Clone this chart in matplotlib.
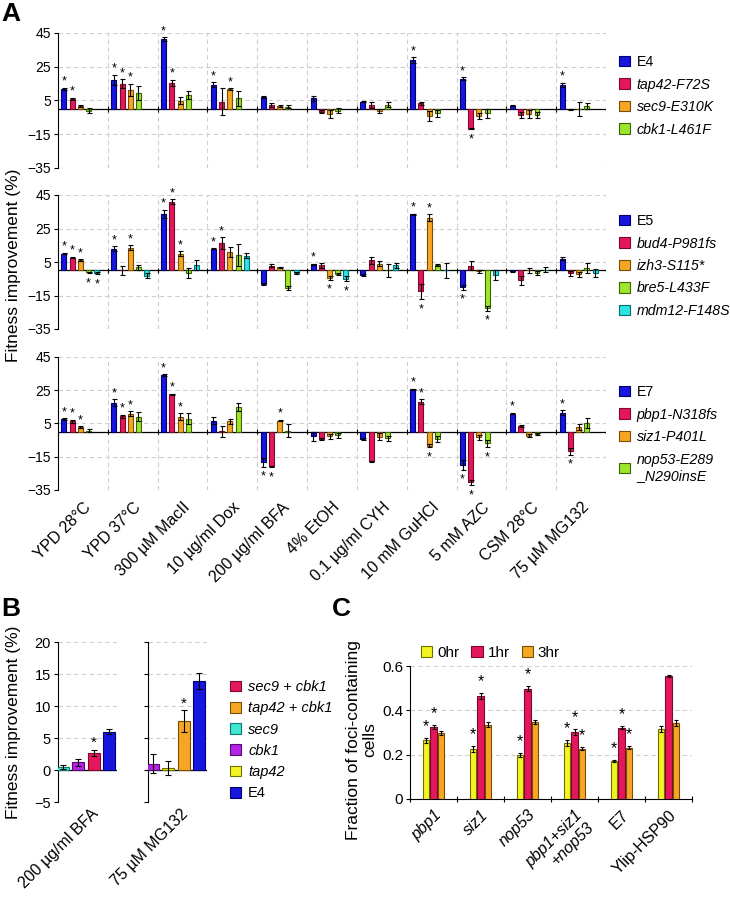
import numpy as np
import matplotlib
matplotlib.use("Agg")
import matplotlib.pyplot as plt
from matplotlib.patches import Patch

plt.rcParams['font.family'] = ['Liberation Sans', 'DejaVu Sans']

# ---------------- Panel A data ----------------
conditions = ["YPD 28°C", "YPD 37°C", "300 µM MacII", "10 µg/ml Dox", "200 µg/ml BFA",
              "4% EtOH", "0.1 µg/ml CYH", "10 mM GuHCl", "5 mM AZC", "CSM 28°C", "75 µM MG132"]

# E4 set
a1_labels = ["E4", "tap42-F72S", "sec9-E310K", "cbk1-L461F"]
E4 = [11.8, 17.4, 41.4, 14.4, 7.0, 6.4, 4.4, 29.0, 18.0, 1.8, 14.4]
E4_err = [0.8, 3.0, 1.0, 1.5, 0.5, 1.5, 0.5, 1.5, 0.7, 0.3, 1.2]
E4_sig = [1, 1, 1, 1, 0, 0, 0, 1, 1, 0, 1]
tap42 = [5.8, 15.0, 15.4, 4.4, 2.4, -1.6, 2.4, 3.4, -11.6, -3.6, -0.2]
tap42_err = [0.8, 2.5, 2.0, 7.8, 1.0, 0.8, 2.0, 1.0, 0.5, 2.0, 0.2]
tap42_sig = [1, 1, 1, 0, 0, 0, 0, 0, 1, 0, 0]
sec9 = [1.8, 11.4, 4.8, 11.8, 1.8, -3.0, -1.2, -4.2, -4.2, -3.0, 0.0]
sec9_err = [0.5, 3.5, 2.0, 0.5, 0.5, 2.5, 1.0, 3.0, 2.0, 2.5, 4.0]
sec9_sig = [0, 1, 0, 1, 0, 0, 0, 0, 0, 0, 0]
cbk1 = [-1.0, 9.4, 8.4, 6.2, 1.4, -1.0, 2.4, -2.6, -2.6, -3.6, 1.8]
cbk1_err = [1.5, 4.0, 2.5, 4.5, 1.0, 1.5, 1.5, 2.0, 2.5, 1.5, 1.8]
cbk1_sig = [0] * 11

# E5 set
a2_labels = ["E5", "bud4-P981fs", "izh3-S115*", "bre5-L433F", "mdm12-F148S"]
E5 = [10.0, 12.8, 33.8, 13.0, -8.0, 3.6, -2.6, 33.4, -10.0, -0.6, 7.0]
E5_err = [0.5, 1.5, 2.5, 0.3, 0.5, 0.5, 0.5, 0.5, 1.5, 0.3, 1.0]
E5_sig = [1, 1, 1, 1, 0, 1, 0, 1, 1, 0, 0]
bud4 = [7.6, 0.0, 41.0, 16.4, 2.8, 3.2, 6.0, -12.6, 2.8, -6.0, -1.6]
bud4_err = [0.5, 2.5, 1.5, 3.5, 1.0, 1.5, 2.0, 4.5, 2.5, 2.5, 1.5]
bud4_sig = [1, 0, 1, 1, 0, 0, 0, 1, 0, 0, 0]
izh3 = [6.0, 13.4, 9.8, 11.0, 1.8, -4.6, 4.0, 31.4, -0.5, 0.0, -2.2]
izh3_err = [0.5, 1.5, 1.5, 3.0, 0.5, 1.0, 1.5, 2.0, 1.0, 1.5, 1.5]
izh3_sig = [1, 1, 1, 0, 0, 1, 0, 1, 0, 0, 0]
bre5 = [-1.2, 1.8, -1.6, 9.0, -10.6, -2.2, 0.0, 3.2, -22.6, -1.6, 1.4]
bre5_err = [0.5, 1.5, 3.0, 6.5, 1.0, 0.5, 4.0, 0.8, 1.5, 1.0, 3.0]
bre5_sig = [1, 0, 0, 0, 0, 0, 0, 0, 1, 0, 0]
mdm12 = [-1.6, -3.2, 3.2, 8.6, -1.6, -5.0, 3.2, 0.0, -3.0, 0.4, -1.6]
mdm12_err = [0.5, 1.5, 3.0, 1.5, 0.5, 1.5, 1.5, 4.5, 3.0, 1.5, 2.5]
mdm12_sig = [1, 0, 0, 0, 0, 1, 0, 0, 0, 0, 0]

# E7 set
a3_labels = ["E7", "pbp1-N318fs", "siz1-P401L", "nop53-E289\n_N290insE"]
E7 = [7.6, 17.6, 34.2, 6.8, -18.4, -2.8, -4.4, 25.6, -19.8, 11.0, 11.4]
E7_err = [0.5, 2.0, 0.5, 2.0, 2.5, 2.5, 0.5, 0.3, 3.0, 0.5, 1.5]
E7_sig = [1, 1, 1, 0, 1, 0, 0, 1, 1, 1, 1]
pbp1 = [6.4, 9.4, 22.6, 0.2, -20.8, -4.4, -17.8, 18.0, -30.4, 3.4, -11.8]
pbp1_err = [1.0, 1.0, 0.3, 3.5, 0.5, 0.5, 0.5, 1.5, 1.5, 0.8, 2.0]
pbp1_sig = [1, 1, 1, 0, 1, 0, 0, 1, 1, 0, 1]
siz1 = [3.0, 11.0, 9.2, 6.4, 6.8, -2.8, -3.0, -8.4, -3.4, -2.4, 2.8]
siz1_err = [0.5, 1.5, 2.0, 1.5, 0.5, 1.5, 2.0, 1.0, 1.5, 1.0, 2.0]
siz1_sig = [1, 1, 1, 0, 1, 0, 0, 1, 0, 0, 0]
nop53 = [0.6, 9.2, 8.0, 14.8, 0.6, -2.0, -4.0, -4.4, -7.0, -1.4, 5.2]
nop53_err = [1.0, 2.5, 3.5, 2.5, 4.0, 1.5, 1.5, 2.0, 2.0, 0.5, 3.0]
nop53_sig = [0, 0, 0, 0, 0, 0, 0, 0, 1, 0, 0]

a_ticks = [-35, -15, 5, 25, 45]

# ---------------- Panel B data ----------------
b_legend = ["sec9 + cbk1", "tap42 + cbk1", "sec9", "cbk1", "tap42", "E4"]
b_bfa_strains = ["sec9", "cbk1", "sec9 + cbk1", "E4"]
b_bfa_vals = [0.5, 1.2, 2.7, 6.0]
b_bfa_err = [0.3, 0.5, 0.5, 0.35]
b_bfa_sig = [0, 0, 1, 0]
b_mg_strains = ["cbk1", "tap42", "tap42 + cbk1", "E4"]
b_mg_vals = [1.0, 0.3, 7.6, 13.9]
b_mg_err = [1.5, 1.1, 1.7, 1.2]
b_mg_sig = [0, 0, 1, 0]
b_conditions = ["200 µg/ml BFA", "75 µM MG132"]
b_ticks = [-5, 0, 5, 10, 15, 20]

# ---------------- Panel C data ----------------
c_groups = ["pbp1", "siz1", "nop53", "pbp1+siz1\n+nop53", "E7", "Ylip-HSP90"]
c_italic = [1, 1, 1, 1, 0, 0]
c_series = ["0hr", "1hr", "3hr"]
c_0hr = [0.264, 0.225, 0.198, 0.252, 0.170, 0.315]
c_0hr_err = [0.010, 0.013, 0.010, 0.013, 0.005, 0.013]
c_0hr_sig = [1, 1, 1, 1, 1, 0]
c_1hr = [0.324, 0.465, 0.497, 0.303, 0.322, 0.556]
c_1hr_err = [0.010, 0.013, 0.012, 0.013, 0.008, 0.005]
c_1hr_sig = [1, 1, 1, 1, 1, 0]
c_3hr = [0.297, 0.336, 0.347, 0.227, 0.232, 0.343]
c_3hr_err = [0.008, 0.010, 0.010, 0.008, 0.006, 0.015]
c_3hr_sig = [0, 0, 0, 1, 1, 0]
c_ticks = [0, 0.2, 0.4, 0.6]
c_ticklabels = ["0", "0.2", "0.4", "0.6"]

# ---------------- colours ----------------
BLUE, BLUE_E = "#1616e0", "#00006e"
RED, RED_E = "#e4175c", "#7a0a2a"
ORG, ORG_E = "#f6a624", "#7a4e00"
GRN, GRN_E = "#9ee62c", "#3c6400"
CYN, CYN_E = "#2ee3e3", "#007070"
TRQ, TRQ_E = "#3fe6d2", "#0a7a70"
PUR, PUR_E = "#b622e6", "#560a70"
YEL, YEL_E = "#f4f422", "#6e6e00"
GRIDC = "#cfcfcf"
DASH = (0, (4, 3))

fig = plt.figure(figsize=(7.3, 9.01), dpi=100)
W, H = 730, 901


def fx(px):
    return px / W


def fy(py):
    return 1 - py / H


def star(ax, x, v, e, fs=9):
    if v >= 0:
        ax.annotate('*', (x, v + e), xytext=(0, 0), textcoords='offset points',
                    ha='center', va='bottom', fontsize=fs, zorder=6)
    else:
        ax.annotate('*', (x, v - e), xytext=(0, -3), textcoords='offset points',
                    ha='center', va='top', fontsize=fs, zorder=6)


def panel_a(rect, series, colors, labels, leg_top, show_x):
    ax = fig.add_axes(rect)
    n_cond = len(conditions)
    idx = np.arange(n_cond)
    for j, ((vals, err, sig), (fc, ec), lab) in enumerate(zip(series, colors, labels)):
        x = idx + 0.12 + 0.165 * j
        ax.bar(x, vals, width=0.1, color=fc, edgecolor=ec, linewidth=0.8, label=lab, zorder=3)
        ax.errorbar(x, vals, yerr=err, fmt='none', ecolor='black', elinewidth=0.8,
                    capsize=1.8, capthick=0.8, zorder=4)
        for xi, v, e, s in zip(x, vals, err, sig):
            if s:
                star(ax, xi, v, e)
    ax.set_xlim(0, n_cond)
    ax.set_ylim(-35, 45)
    ax.set_yticks(a_ticks)
    ax.tick_params(axis='y', labelsize=10, length=3, width=0.8, direction='out', pad=2)
    ax.yaxis.grid(True, linestyle=DASH, color=GRIDC, linewidth=0.8)
    ax.set_xticks(np.arange(1, n_cond + 1), minor=True)
    ax.xaxis.grid(True, which='minor', linestyle=DASH, color=GRIDC, linewidth=0.8)
    ax.set_axisbelow(True)
    ax.axhline(0, color='black', linewidth=0.9, zorder=2)
    ax.vlines(np.arange(1, n_cond + 1), -1.6, 1.6, color='black', linewidth=0.8, zorder=2)
    for s in ['top', 'right', 'bottom']:
        ax.spines[s].set_visible(False)
    ax.spines['left'].set_linewidth(0.8)
    ax.set_xticks(idx + 0.5)
    if show_x:
        ax.set_xticklabels(conditions, rotation=45, ha='right', rotation_mode='anchor', fontsize=11.5)
    else:
        ax.set_xticklabels([])
    ax.tick_params(axis='x', which='both', length=0, pad=7)
    handles = [Patch(facecolor=fc, edgecolor=ec, linewidth=0.8) for fc, ec in colors]
    leg = fig.legend(handles, labels, loc='upper left', bbox_to_anchor=(fx(619), fy(leg_top)),
                     frameon=False, fontsize=10.2, handlelength=0.75, handleheight=0.75,
                     handletextpad=0.5, labelspacing=0.6, borderpad=0, borderaxespad=0)
    for i, t in enumerate(leg.get_texts()):
        if i > 0:
            t.set_style('italic')
    return ax


ax1 = panel_a([fx(58), fy(168), fx(606 - 58), (168 - 33) / H],
              [(E4, E4_err, E4_sig), (tap42, tap42_err, tap42_sig),
               (sec9, sec9_err, sec9_sig), (cbk1, cbk1_err, cbk1_sig)],
              [(BLUE, BLUE_E), (RED, RED_E), (ORG, ORG_E), (GRN, GRN_E)],
              a1_labels, 55, False)
ax2 = panel_a([fx(58), fy(329), fx(606 - 58), (329 - 195) / H],
              [(E5, E5_err, E5_sig), (bud4, bud4_err, bud4_sig), (izh3, izh3_err, izh3_sig),
               (bre5, bre5_err, bre5_sig), (mdm12, mdm12_err, mdm12_sig)],
              [(BLUE, BLUE_E), (RED, RED_E), (ORG, ORG_E), (GRN, GRN_E), (CYN, CYN_E)],
              a2_labels, 214, False)
ax3 = panel_a([fx(58), fy(490), fx(606 - 58), (490 - 357) / H],
              [(E7, E7_err, E7_sig), (pbp1, pbp1_err, pbp1_sig),
               (siz1, siz1_err, siz1_sig), (nop53, nop53_err, nop53_sig)],
              [(BLUE, BLUE_E), (RED, RED_E), (ORG, ORG_E), (GRN, GRN_E)],
              a3_labels, 385, True)

fig.text(fx(14), fy(265), "Fitness improvement (%)", rotation=90, ha='center', va='center', fontsize=12.5)

# ---------------- Panel B ----------------
b_colors = {"sec9 + cbk1": (RED, RED_E), "tap42 + cbk1": (ORG, ORG_E), "sec9": (TRQ, TRQ_E),
            "cbk1": (PUR, PUR_E), "tap42": (YEL, YEL_E), "E4": (BLUE, BLUE_E)}


def panel_b(rect, strains, vals, err, sig, cond, show_labels):
    ax = fig.add_axes(rect)
    x = np.arange(len(strains))
    cols = [b_colors[s][0] for s in strains]
    ecs = [b_colors[s][1] for s in strains]
    ax.bar(x, vals, width=0.8, color=cols, edgecolor=ecs, linewidth=0.8, zorder=3)
    ax.errorbar(x, vals, yerr=err, fmt='none', ecolor='black', elinewidth=0.8,
                capsize=2.2, capthick=0.8, zorder=4)
    for xi, v, e, s in zip(x, vals, err, sig):
        if s:
            star(ax, xi, v, e, fs=11)
    ax.set_xlim(-0.35, len(strains) - 0.45)
    ax.set_ylim(-5, 20)
    ax.set_yticks(b_ticks)
    ax.yaxis.grid(True, linestyle=DASH, color=GRIDC, linewidth=0.8)
    ax.set_axisbelow(True)
    ax.axhline(0, color='black', linewidth=0.9, zorder=2)
    for s in ['top', 'right', 'bottom']:
        ax.spines[s].set_visible(False)
    ax.spines['left'].set_linewidth(0.8)
    ax.tick_params(axis='y', labelsize=10.5, length=3, width=0.8, pad=2)
    if not show_labels:
        ax.set_yticklabels([])
    ax.set_xticks([(len(strains) - 1) / 2 + 0.3])
    ax.set_xticklabels([cond], rotation=45, ha='right', rotation_mode='anchor', fontsize=11.5)
    ax.tick_params(axis='x', length=0, pad=3)
    return ax


bh = (802 - 642) / H
axb1 = panel_b([fx(58), fy(802), fx(117 - 58), bh], b_bfa_strains, b_bfa_vals, b_bfa_err,
               b_bfa_sig, b_conditions[0], True)
axb2 = panel_b([fx(148), fy(802), fx(207 - 148), bh], b_mg_strains, b_mg_vals, b_mg_err,
               b_mg_sig, b_conditions[1], False)
fig.text(fx(14), fy(722), "Fitness improvement (%)", rotation=90, ha='center', va='center', fontsize=12.5)

bh_handles = [Patch(facecolor=b_colors[s][0], edgecolor=b_colors[s][1], linewidth=0.8) for s in b_legend]
legb = fig.legend(bh_handles, b_legend, loc='upper left', bbox_to_anchor=(fx(230), fy(680)),
                  frameon=False, fontsize=10.5, handlelength=0.75, handleheight=0.75,
                  handletextpad=0.5, labelspacing=0.5, borderpad=0, borderaxespad=0)
for t in legb.get_texts():
    if t.get_text() != "E4":
        t.set_style('italic')

# ---------------- Panel C ----------------
axc = fig.add_axes([fx(410), fy(799), fx(692 - 410), (799 - 666) / H])
gx = np.arange(len(c_groups))
c_cols = [(YEL, YEL_E), (RED, RED_E), (ORG, ORG_E)]
for j, ((vals, err, sig), (fc, ec), lab) in enumerate(zip(
        [(c_0hr, c_0hr_err, c_0hr_sig), (c_1hr, c_1hr_err, c_1hr_sig), (c_3hr, c_3hr_err, c_3hr_sig)],
        c_cols, c_series)):
    x = gx + (j - 1) * 0.165
    axc.bar(x, vals, width=0.13, color=fc, edgecolor=ec, linewidth=0.8, label=lab, zorder=3)
    axc.errorbar(x, vals, yerr=err, fmt='none', ecolor='black', elinewidth=0.8,
                 capsize=1.5, capthick=0.8, zorder=4)
    for xi, v, e, s in zip(x, vals, err, sig):
        if s:
            axc.annotate('*', (xi, v + e), xytext=(0, 3), textcoords='offset points',
                         ha='center', va='bottom', fontsize=11.5, zorder=6)
axc.set_xlim(-0.5, len(c_groups) - 0.5)
axc.set_ylim(0, 0.6)
axc.set_yticks(c_ticks)
axc.set_yticklabels(c_ticklabels)
axc.yaxis.grid(True, linestyle=DASH, color=GRIDC, linewidth=0.8)
axc.set_axisbelow(True)
for s in ['top', 'right']:
    axc.spines[s].set_visible(False)
axc.spines['left'].set_linewidth(0.8)
axc.spines['bottom'].set_linewidth(0.8)
axc.tick_params(axis='y', labelsize=11, length=3, width=0.8, pad=2)
axc.set_xticks(gx)
axc.set_xticklabels(c_groups, rotation=45, ha='right', rotation_mode='anchor', fontsize=11.5)
for t, it in zip(axc.get_xticklabels(), c_italic):
    if it:
        t.set_style('italic')
axc.set_xticks(np.arange(len(c_groups) + 1) - 0.5, minor=True)
axc.tick_params(axis='x', which='major', length=0, pad=6)
axc.tick_params(axis='x', which='minor', length=4, width=0.8, direction='inout')
legc = fig.legend([Patch(facecolor=fc, edgecolor=ec, linewidth=0.8) for fc, ec in c_cols], c_series,
                  loc='upper left', bbox_to_anchor=(fx(421), fy(646)), ncol=3, frameon=False,
                  fontsize=11, handlelength=0.75, handleheight=0.75, handletextpad=0.3,
                  columnspacing=0.8, borderpad=0, borderaxespad=0)
fig.text(fx(362), fy(740), "Fraction of foci-containing\ncells", rotation=90, ha='center',
         va='center', fontsize=12.5, multialignment='center', linespacing=1.1)

# ---------------- panel letters ----------------
fig.text(fx(1), fy(2), "A", fontsize=19, fontweight='bold', ha='left', va='top')
fig.text(fx(1), fy(597), "B", fontsize=19, fontweight='bold', ha='left', va='top')
fig.text(fx(332), fy(597), "C", fontsize=19, fontweight='bold', ha='left', va='top')

fig.savefig("out.png", dpi=100)
